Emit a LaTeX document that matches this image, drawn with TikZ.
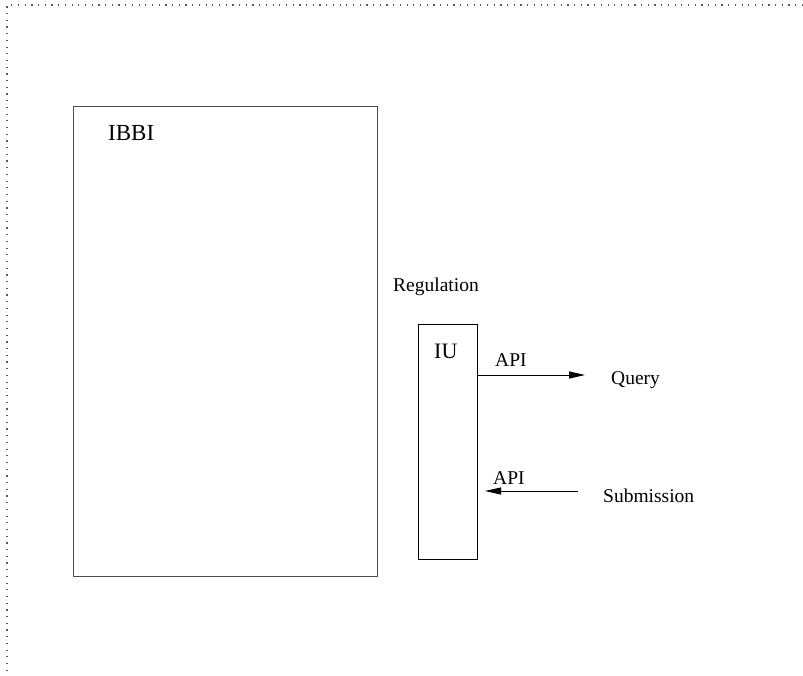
\documentclass[tikz,border=0pt]{standalone}
\usepackage{fontspec}
\setmainfont{Liberation Serif}
\usetikzlibrary{arrows.meta}
\begin{document}
\begin{tikzpicture}[x=1pt,y=-1pt,
  frame/.style={draw=black!65, line width=1.2pt, dash pattern=on 1.2pt off 5.5pt},
  bigbox/.style={draw=black!70, line width=1pt, inner sep=0, anchor=north west},
  smallbox/.style={draw=black, line width=1pt, inner sep=0, anchor=north west},
  lbl/.style={inner sep=0, anchor=base west, font=\fontsize{19.5}{23}\selectfont},
  arr/.style={line width=1pt, -{Triangle[length=16pt,width=7pt]}}]
\useasboundingbox (0,0) rectangle (803,675);
\draw[frame] (803,5) -- (7,5) -- (7,675);
\node[bigbox, minimum width=304pt, minimum height=470pt] (ibbi) at (73,106) {};
\node[smallbox, minimum width=59pt, minimum height=235pt] (iu) at (418,324) {};
\node[lbl, font=\fontsize{23}{27}\selectfont] (ibbilbl) at (108,140) {IBBI};
\node[lbl] (reg) at (393,291) {Regulation};
\node[lbl, font=\fontsize{22}{26}\selectfont] (iulbl) at (434,358) {IU};
\node[lbl] (api1) at (495,366.5) {API};
\node[lbl] (query) at (611,384) {Query};
\node[lbl] (api2) at (493,484) {API};
\node[lbl] (sub) at (603,502) {Submission};
\coordinate (qtip) at (585,375);
\coordinate (stail) at (578,491);
\coordinate (stip) at (485,491);
\draw[arr] (iu.east |- qtip) -- (qtip);
\draw[arr] (stail) -- (stip);
\end{tikzpicture}
\end{document}
